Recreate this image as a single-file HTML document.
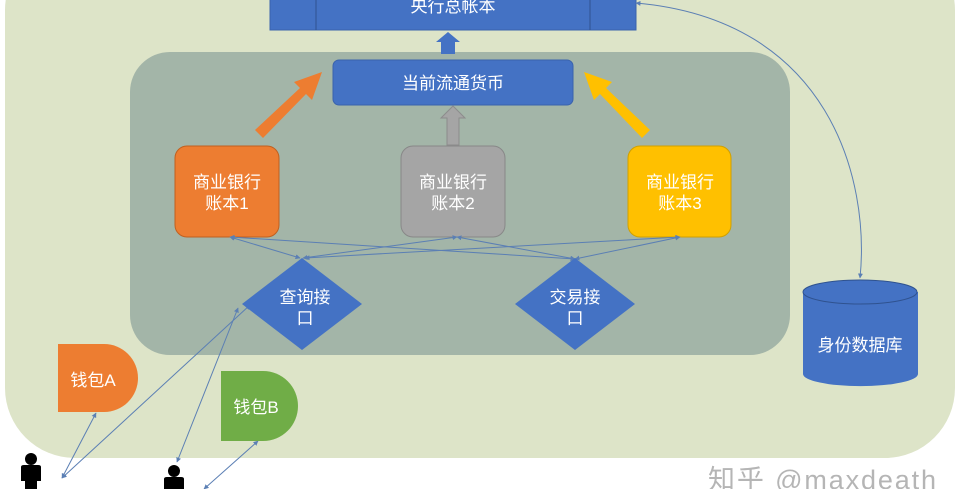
<!DOCTYPE html>
<html><head><meta charset="utf-8"><style>
body{margin:0;width:960px;height:489px;overflow:hidden;background:#fff;font-family:"Liberation Sans","Noto Sans CJK SC",sans-serif}
</style></head><body>
<svg width="960" height="489" viewBox="0 0 960 489" xmlns="http://www.w3.org/2000/svg" font-family="Liberation Sans, Noto Sans CJK SC, sans-serif">
<defs><marker id="a" viewBox="0 0 10 10" refX="9" refY="5" markerWidth="5" markerHeight="5" orient="auto-start-reverse"><path d="M0,0L10,5L0,10z" fill="#5b7fb4"/></marker></defs>
<rect x="5" y="-60" width="950" height="518" rx="70" fill="#dde4c8"/>
<rect x="130" y="52" width="660" height="303" rx="40" fill="#a3b5a8"/>
<rect x="270" y="-10" width="366" height="40" fill="#4472c4" stroke="#3a63ad"/>
<line x1="316" y1="-10" x2="316" y2="30" stroke="#2f528f"/><line x1="590" y1="-10" x2="590" y2="30" stroke="#2f528f"/>
<text x="453" y="12" fill="#fff" font-size="17" text-anchor="middle">央行总帐本</text>
<path d="M441,54V42H436L448,32L460,42H455V54Z" fill="#4472c4"/>
<rect x="333" y="60" width="240" height="45" rx="6" fill="#4472c4" stroke="#3a63ad"/>
<text x="453" y="89" fill="#fff" font-size="17" text-anchor="middle">当前流通货币</text>
<path d="M447,145V118H441L453,106L465,118H459V145Z" fill="#a5a5a5" stroke="#8c8c8c"/>
<path d="M255,130L300,88L294,82L322,72L312,100L306,94L263,138Z" fill="#ed7d31"/>
<path d="M650,130L606,88L612,82L584,72L594,100L600,94L642,138Z" fill="#ffc000"/>
<rect x="175" y="146" width="104" height="91" rx="12" fill="#ed7d31" stroke="#c06020"/>
<rect x="401" y="146" width="104" height="91" rx="12" fill="#a5a5a5" stroke="#888"/>
<rect x="628" y="146" width="103" height="91" rx="12" fill="#ffc000" stroke="#d0a000"/>
<g fill="#fff" font-size="17" text-anchor="middle">
<text x="227" y="188">商业银行</text><text x="227" y="209">账本1</text>
<text x="453" y="188">商业银行</text><text x="453" y="209">账本2</text>
<text x="680" y="188">商业银行</text><text x="680" y="209">账本3</text></g>
<g stroke="#5b7fb4" stroke-width="1" fill="none" marker-start="url(#a)" marker-end="url(#a)">
<line x1="230" y1="237" x2="300" y2="258"/><line x1="457" y1="237" x2="303" y2="258"/><line x1="680" y1="237" x2="305" y2="258"/>
<line x1="230" y1="237" x2="575" y2="259"/><line x1="457" y1="237" x2="575" y2="259"/><line x1="680" y1="237" x2="575" y2="259"/>
<line x1="62" y1="478" x2="96" y2="413"/><line x1="62" y1="478" x2="250" y2="305"/>
<line x1="177" y1="462" x2="238" y2="308"/><line x1="204" y1="489" x2="258" y2="441"/>
<path d="M860,278C870,180 830,20 636,3"/>
</g>
<path d="M302,258L362,304L302,350L242,304Z" fill="#4472c4"/>
<path d="M575,258L635,304L575,350L515,304Z" fill="#4472c4"/>
<g fill="#fff" font-size="17" text-anchor="middle">
<text x="305" y="303">查询接</text><text x="305" y="324">口</text>
<text x="575" y="303">交易接</text><text x="575" y="324">口</text></g>
<path d="M803,292V374A57,12 0 0 0 918,374V292Z" fill="#4472c4"/>
<ellipse cx="860" cy="292" rx="57" ry="12" fill="#4472c4" stroke="#2f528f"/>
<text x="860" y="351" fill="#fff" font-size="17" text-anchor="middle">身份数据库</text>
<path d="M58,344H104A34,34 0 0 1 104,412H58Z" fill="#ed7d31"/>
<text x="93" y="386" fill="#fff" font-size="17" text-anchor="middle">钱包A</text>
<path d="M221,371H263A35,35 0 0 1 263,441H221Z" fill="#70ad47"/>
<text x="256" y="413" fill="#fff" font-size="17" text-anchor="middle">钱包B</text>
<g fill="#000"><circle cx="31" cy="459" r="6"/><path d="M21,467Q21,465 24,465H38Q41,465 41,467V481H37V489H25V481H21Z"/>
<circle cx="174" cy="471" r="6"/><path d="M164,479Q164,477 167,477H181Q184,477 184,479V489H164Z"/></g>
<text x="708" y="489" fill="#b5b5b5" font-size="27" textLength="228">知乎 @maxdeath</text>
</svg>
</body></html>
